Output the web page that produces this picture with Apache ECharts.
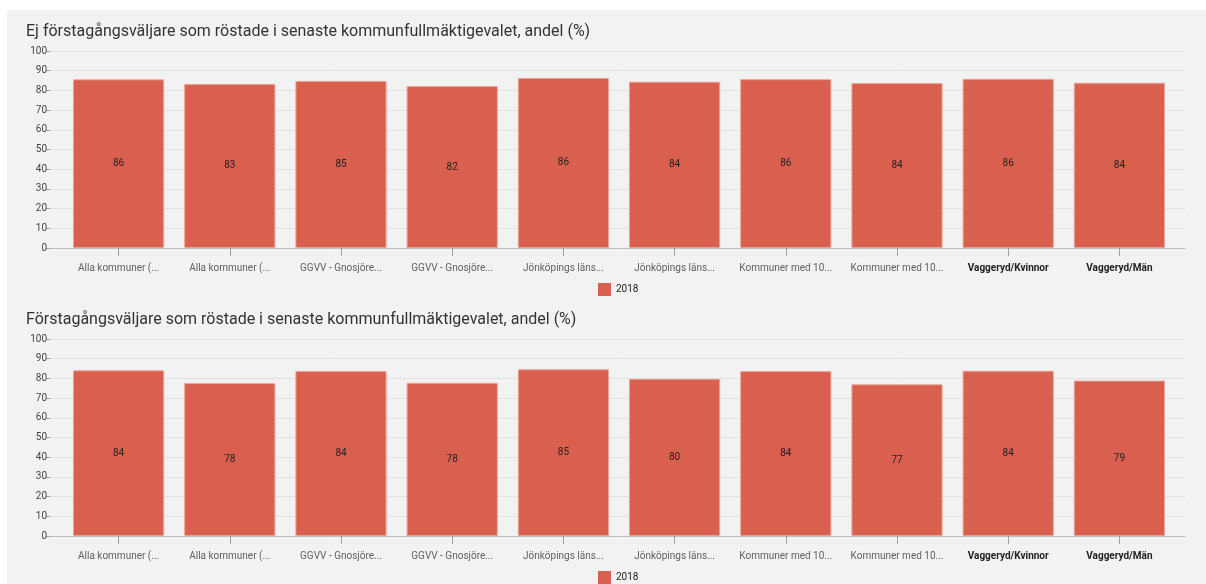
<!DOCTYPE html>
<html>
<head>
<meta charset="utf-8">
<script src="https://cdn.jsdelivr.net/npm/echarts@6/dist/echarts.min.js"></script>
<style>
  html, body { margin: 0; padding: 0; background: #fff; }
  #panel { position: absolute; left: 7px; top: 10px; width: 1199px; height: 574px; background: #f2f2f2; }
  #chart { position: absolute; left: 0; top: 0; width: 1206px; height: 584px; }
</style>
</head>
<body>
<div id="panel"></div>
<div id="chart"></div>
<script>
// kategorier (avkortade som i originalet)
var categories = ['Alla kommuner (...', 'Alla kommuner (...', 'GGVV - Gnosjöre...', 'GGVV - Gnosjöre...',
    'Jönköpings läns...', 'Jönköpings läns...', 'Kommuner med 10...', 'Kommuner med 10...',
    'Vaggeryd/Kvinnor', 'Vaggeryd/Män'];
var boldIdx = [8, 9];
var yTicks = [0, 10, 20, 30, 40, 50, 60, 70, 80, 90, 100];

var titleTop = 'Ej förstagångsväljare som röstade i senaste kommunfullmäktigevalet, andel (%)';
var titleBottom = 'Förstagångsväljare som röstade i senaste kommunfullmäktigevalet, andel (%)';
var seriesName = '2018';

var valuesTop = [85.6, 83.3, 84.8, 82.2, 86.3, 84.4, 85.7, 83.7, 85.9, 83.9];
var valuesBottom = [84.1, 77.6, 83.8, 77.8, 84.6, 79.8, 83.7, 77.0, 83.9, 78.9];

var font = 'Roboto, sans-serif';
var barColor = '#d95f4e';

var chart = echarts.init(document.getElementById('chart'));

function panel(top) {
    // grid a: y-axel + rutnät, grid b: staplar
    return {
        gridA: { left: 50, right: 21, top: top, height: 197 },
        gridB: { left: 63, right: 31, top: top, height: 197 }
    };
}
var p1 = panel(51), p2 = panel(339);

function axisX(gi, withLabels) {
    if (!withLabels) {
        return {
            type: 'category', gridIndex: gi, data: [''],
            axisLine: { lineStyle: { color: '#bdbdbd' } },
            axisTick: { show: false }, axisLabel: { show: false }
        };
    }
    return {
        type: 'category', gridIndex: gi, data: categories,
        axisLine: { show: false },
        axisTick: { show: true, alignWithLabel: true, length: 8, lineStyle: { color: '#9e9e9e' } },
        axisLabel: {
            margin: 15, fontSize: 10, fontFamily: font, color: '#616161', interval: 0,
            formatter: function (v, i) { return boldIdx.indexOf(i) >= 0 ? '{b|' + v + '}' : v; },
            rich: { b: { fontWeight: 'bold', color: '#222', fontSize: 10, fontFamily: font } }
        }
    };
}
function axisY(gi, withLabels) {
    return {
        type: 'value', gridIndex: gi, min: yTicks[0], max: yTicks[yTicks.length - 1], interval: 10,
        axisLine: { show: false },
        axisTick: { show: withLabels, length: 4, lineStyle: { color: '#9e9e9e' } },
        axisLabel: { show: withLabels, fontSize: 10, fontFamily: font, color: '#444', margin: 3 },
        splitLine: { show: withLabels, lineStyle: { color: '#e0e0e0' } }
    };
}
function bars(xi, data) {
    return {
        name: seriesName, type: 'bar', xAxisIndex: xi, yAxisIndex: xi, data: data,
        barWidth: '82%', itemStyle: { color: barColor, borderColor: '#e9a496', borderWidth: 1 },
        label: {
            show: true, position: 'inside', fontSize: 10, fontFamily: font, color: '#222',
            formatter: function (p) { return Math.round(p.value); }
        },
        silent: true
    };
}
function legendAt(top) {
    return {
        data: [seriesName], left: 593, top: top, itemWidth: 13, itemHeight: 13, itemGap: 6,
        icon: 'rect', itemStyle: { borderWidth: 0 },
        textStyle: { fontSize: 10, color: '#222', fontFamily: font }
    };
}

chart.setOption({
    animation: false,
    textStyle: { fontFamily: font },
    title: [
        { text: titleTop, left: 21, top: 19, textStyle: { fontSize: 16, fontWeight: 'normal', color: '#333', fontFamily: font } },
        { text: titleBottom, left: 21, top: 307, textStyle: { fontSize: 16, fontWeight: 'normal', color: '#333', fontFamily: font } }
    ],
    legend: [legendAt(278), legendAt(566)],
    grid: [p1.gridA, p1.gridB, p2.gridA, p2.gridB],
    xAxis: [axisX(0, false), axisX(1, true), axisX(2, false), axisX(3, true)],
    yAxis: [axisY(0, true), axisY(1, false), axisY(2, true), axisY(3, false)],
    series: [bars(1, valuesTop), bars(3, valuesBottom)]
});
</script>
</body>
</html>
